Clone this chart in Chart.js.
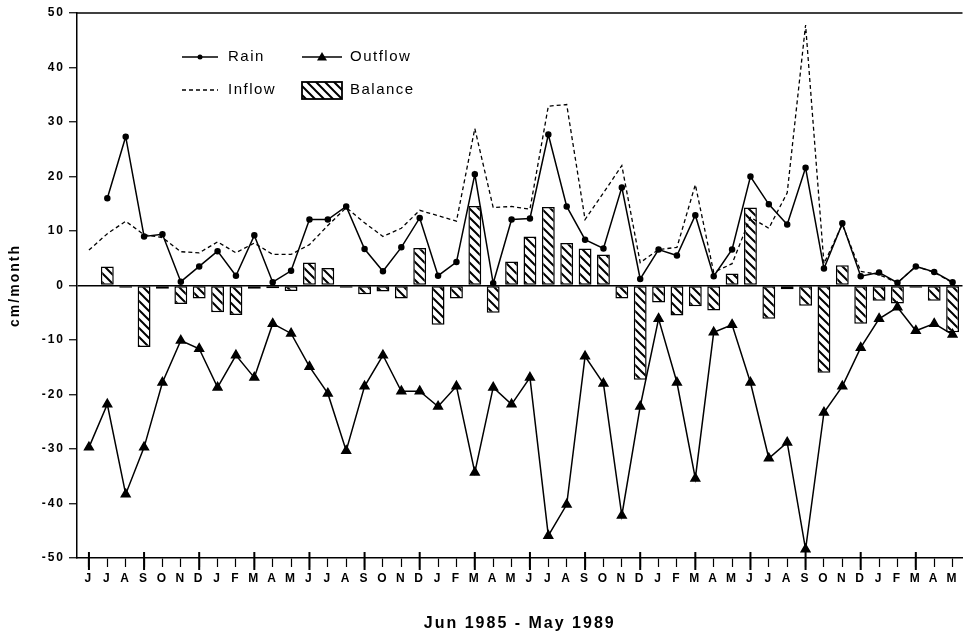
<!DOCTYPE html>
<html>
<head>
<meta charset="utf-8">
<script src="https://cdn.jsdelivr.net/npm/chart.js@4/dist/chart.umd.min.js"></script>
<style>body{margin:0;background:#fff}canvas{display:block}</style>
</head>
<body>
<canvas id="water-chart" width="969" height="637"></canvas>
<script>
// Jun 1985 - May 1989, one value per month (cm/month)
var months = ["J","J","A","S","O","N","D","J","F","M","A","M",
              "J","J","A","S","O","N","D","J","F","M","A","M",
              "J","J","A","S","O","N","D","J","F","M","A","M",
              "J","J","A","S","O","N","D","J","F","M","A","M"];
var rain = [null, 16, 27.3, 9, 9.4, 0.7, 3.5, 6.3, 1.8, 9.2, 0.6, 2.7,
            12.1, 12.1, 14.5, 6.7, 2.6, 7, 12.4, 1.8, 4.3, 20.4, 0.4, 12.1,
            12.3, 27.7, 14.5, 8.4, 6.8, 18, 1.2, 6.6, 5.5, 12.9, 1.7, 6.6,
            20, 14.9, 11.2, 21.6, 3.1, 11.4, 1.7, 2.4, 0.5, 3.5, 2.5, 0.6];
var inflow = [6.5, 9.5, 11.8, 9.3, 8.8, 6.2, 6, 8, 6, 7.8, 5.7, 5.7,
              7.5, 11, 14.3, 11.5, 9, 10.5, 13.8, 12.8, 11.8, 28.8, 14.3, 14.5,
              14, 32.9, 33.2, 12.1, 17, 22, 4.2, 6.6, 7, 18.5, 2.4, 4,
              12.5, 10.5, 17, 47.8, 4, 11.2, 2.6, 2, 0.5, 3.5, 2.4, 0.5];
var outflow = [-29.7, -21.8, -38.3, -29.7, -17.8, -10.1, -11.6, -18.7, -12.8, -16.9, -7, -8.8,
               -14.9, -19.8, -30.3, -18.5, -12.8, -19.4, -19.4, -22.2, -18.5, -34.3, -18.7, -21.8,
               -16.9, -45.9, -40.2, -13, -18, -42.2, -22.2, -6.1, -17.8, -35.4, -8.6, -7.2,
               -17.8, -31.7, -28.8, -48.4, -23.3, -18.5, -11.4, -6.1, -4, -8.3, -7, -9];
var balance = [null, 3.5, -0.4, -11.3, -0.6, -3.4, -2.4, -4.9, -5.4, -0.6, -0.5, -1,
               4.2, 3.2, -0.4, -1.6, -1.1, -2.4, 6.9, -7.2, -2.4, 14.6, -5, 4.4,
               9, 14.4, 7.8, 6.8, 5.7, -2.4, -17.3, -3.1, -5.5, -3.8, -4.6, 2.2,
               14.3, -6.1, -0.7, -3.7, -16, 3.7, -7, -2.8, -3.3, -0.4, -2.8, -8.6];

var canvas = document.getElementById("water-chart");
var ctx = canvas.getContext("2d");
var fontFam = "'Liberation Sans', Arial, sans-serif";

function hatchPattern() {
    var c = document.createElement("canvas");
    c.width = 9; c.height = 9;
    var g = c.getContext("2d");
    g.fillStyle = "#fff";
    g.fillRect(0, 0, 9, 9);
    g.strokeStyle = "#000";
    g.lineWidth = 2;
    g.beginPath();
    g.moveTo(-1, -1); g.lineTo(10, 10);
    g.moveTo(-1, 8); g.lineTo(1, 10);
    g.moveTo(8, -1); g.lineTo(10, 1);
    g.stroke();
    return ctx.createPattern(c, "repeat");
}
var hatch = hatchPattern();

function pts(arr) {
    return arr.map((v, i) => ({ x: i, y: v }));
}

// axis frame, major month ticks and the in-plot legend
var extras = {
    id: "extras",
    beforeDraw(chart) {
        chart.ctx.letterSpacing = "2px";
    },
    afterDraw(chart) {
        var c = chart.ctx, a = chart.chartArea, xs = chart.scales.x;
        c.save();
        c.strokeStyle = "#000";
        c.fillStyle = "#000";
        c.lineWidth = 1.5;
        c.beginPath();
        c.moveTo(a.left, a.top); c.lineTo(a.right, a.top);
        c.stroke();

        c.lineWidth = 2;
        c.beginPath();
        months.forEach((m, i) => {
            if (i % 3) return;
            var px = xs.getPixelForValue(i);
            c.moveTo(px, a.bottom - 6); c.lineTo(px, a.bottom + 12);
        });
        c.stroke();

        var lx = a.left + 105, ly1 = 57, ly2 = 90;
        c.lineWidth = 1.5;
        c.beginPath(); c.moveTo(lx, ly1); c.lineTo(lx + 36, ly1); c.stroke();
        c.beginPath(); c.arc(lx + 18, ly1, 2.5, 0, Math.PI * 2); c.fill();

        c.setLineDash([4, 3]);
        c.lineWidth = 1.3;
        c.beginPath(); c.moveTo(lx, ly2); c.lineTo(lx + 36, ly2); c.stroke();
        c.setLineDash([]);

        var ox = a.left + 225;
        c.lineWidth = 1.5;
        c.beginPath(); c.moveTo(ox, ly1); c.lineTo(ox + 40, ly1); c.stroke();
        c.beginPath();
        c.moveTo(ox + 20, ly1 - 5); c.lineTo(ox + 25, ly1 + 3.5); c.lineTo(ox + 15, ly1 + 3.5);
        c.closePath(); c.fill();

        c.fillStyle = hatch;
        c.fillRect(ox, ly2 - 8, 40, 17);
        c.lineWidth = 1.8;
        c.strokeRect(ox, ly2 - 8, 40, 17);

        c.fillStyle = "#000";
        c.font = "15px " + fontFam;
        c.letterSpacing = "1.5px";
        c.textBaseline = "middle";
        c.fillText("Rain", lx + 46, ly1);
        c.fillText("Inflow", lx + 46, ly2);
        c.fillText("Outflow", ox + 48, ly1);
        c.fillText("Balance", ox + 48, ly2);
        c.restore();
    }
};

var tickFont = { family: fontFam, size: 12, weight: "bold" };

new Chart(canvas, {
    type: "bar",
    data: {
        datasets: [
            {
                type: "line", label: "Outflow", data: pts(outflow), order: 1,
                borderColor: "#000", borderWidth: 1.5, pointStyle: "triangle",
                pointRadius: 5, pointBackgroundColor: "#000", pointBorderColor: "#000", tension: 0
            },
            {
                type: "line", label: "Rain", data: pts(rain), order: 2,
                borderColor: "#000", borderWidth: 1.5, pointRadius: 2.5,
                pointBackgroundColor: "#000", pointBorderColor: "#000", tension: 0
            },
            {
                type: "line", label: "Inflow", data: pts(inflow), order: 3,
                borderColor: "#000", borderWidth: 1.3, borderDash: [4, 3], pointRadius: 0, tension: 0
            },
            {
                type: "bar", label: "Balance", data: pts(balance), order: 4,
                backgroundColor: hatch, borderColor: "#000", borderWidth: 1.5,
                borderSkipped: false, barPercentage: 0.7, categoryPercentage: 1
            }
        ]
    },
    options: {
        responsive: false,
        animation: false,
        layout: { padding: { top: 13, right: 3, left: 0, bottom: 0 } },
        plugins: { legend: { display: false }, tooltip: { enabled: false } },
        scales: {
            x: {
                type: "linear", min: -0.65, max: 47.54, offset: false,
                afterBuildTicks: s => { s.ticks = months.map((m, i) => ({ value: i })); },
                afterFit: s => { s.height = 79; },
                ticks: { callback: v => months[v], autoSkip: false, maxRotation: 0, padding: 4, color: "#000", font: tickFont },
                grid: { drawOnChartArea: false, offset: false, tickLength: 9, tickColor: "#000", tickWidth: 1.2 },
                border: { color: "#000", width: 1.5 },
                title: { display: true, text: "Jun 1985 - May 1989", color: "#000",
                         font: { family: fontFam, size: 16, weight: "bold" }, padding: { top: 0, bottom: 4 } }
            },
            y: {
                min: -50, max: 50,
                afterFit: s => { s.width = 77; },
                ticks: { stepSize: 10, padding: 4, color: "#000", font: tickFont },
                grid: {
                    color: c => c.tick && c.tick.value === 0 ? "#000" : "rgba(0,0,0,0)",
                    lineWidth: 1.5, tickColor: "#000", tickLength: 8, tickWidth: 1.2
                },
                border: { color: "#000", width: 1.5 },
                title: { display: true, text: "cm/month", color: "#000",
                         font: { family: fontFam, size: 14, weight: "bold" }, padding: { top: 7, bottom: 0 } }
            }
        }
    },
    plugins: [extras]
});
</script>
</body>
</html>
